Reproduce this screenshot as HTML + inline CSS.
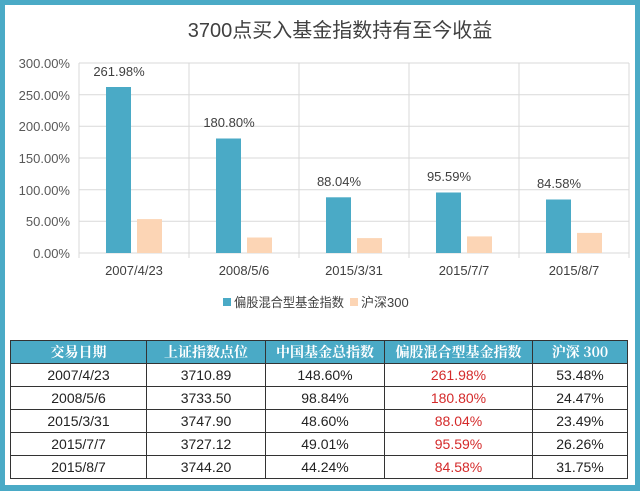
<!DOCTYPE html>
<html><head><meta charset="utf-8"><style>
body{margin:0;width:640px;height:491px;background:#4aaac6;overflow:hidden;font-family:"Liberation Sans","Noto Sans CJK SC",sans-serif}
#w{position:absolute;left:5px;top:5px;width:630px;height:480px;background:#fff}
table{position:absolute;left:10px;top:340px;border-collapse:collapse;font-size:14px;color:#222}
td,th{border:1px solid #333;text-align:center;height:22px;padding:0}
th{background:#4aaac6;color:#fff;font-weight:bold;font-family:"Noto Serif CJK SC",serif;font-size:14px;border-color:#333}
.r{color:#d42a2a}
</style></head><body>
<div id="w"></div>
<svg width="640" height="491" style="position:absolute;left:0;top:0" font-family="Liberation Sans,Noto Sans CJK SC,sans-serif">
<text x="340" y="37" font-size="20" fill="#404040" text-anchor="middle" font-weight="normal">3700点买入基金指数持有至今收益</text>
<g stroke="#d9d9d9" stroke-width="1">
<line x1="79" y1="63" x2="629" y2="63"/><line x1="79" y1="94.7" x2="629" y2="94.7"/><line x1="79" y1="126.3" x2="629" y2="126.3"/><line x1="79" y1="158" x2="629" y2="158"/><line x1="79" y1="189.7" x2="629" y2="189.7"/><line x1="79" y1="221.3" x2="629" y2="221.3"/><line x1="79" y1="253" x2="629" y2="253"/>
<line x1="79" y1="63" x2="79" y2="258"/><line x1="189" y1="63" x2="189" y2="258"/><line x1="299" y1="63" x2="299" y2="258"/><line x1="409" y1="63" x2="409" y2="258"/><line x1="519" y1="63" x2="519" y2="258"/><line x1="629" y1="63" x2="629" y2="258"/>
</g>
<g font-size="13" fill="#595959" text-anchor="end">
<text x="70" y="68">300.00%</text><text x="70" y="100">250.00%</text><text x="70" y="131">200.00%</text><text x="70" y="163">150.00%</text><text x="70" y="195">100.00%</text><text x="70" y="226">50.00%</text><text x="70" y="258">0.00%</text>
</g>
<g fill="#4aaac6">
<rect x="106" y="87" width="25" height="166"/><rect x="216" y="138.5" width="25" height="114.5"/><rect x="326" y="197.3" width="25" height="55.7"/><rect x="436" y="192.5" width="25" height="60.5"/><rect x="546" y="199.5" width="25" height="53.5"/>
</g>
<g fill="#fcd5b5">
<rect x="137" y="219.1" width="25" height="33.9"/><rect x="247" y="237.5" width="25" height="15.5"/><rect x="357" y="238.1" width="25" height="14.9"/><rect x="467" y="236.4" width="25" height="16.6"/><rect x="577" y="232.9" width="25" height="20.1"/>
</g>
<g font-size="13" fill="#404040" text-anchor="middle">
<text x="119" y="76">261.98%</text><text x="229" y="127">180.80%</text><text x="339" y="186">88.04%</text><text x="449" y="181">95.59%</text><text x="559" y="188">84.58%</text>
<text x="134" y="275">2007/4/23</text><text x="244" y="275">2008/5/6</text><text x="354" y="275">2015/3/31</text><text x="464" y="275">2015/7/7</text><text x="574" y="275">2015/8/7</text>
</g>
<rect x="223" y="298" width="8" height="8" fill="#4aaac6"/>
<text x="234" y="307" font-size="13" fill="#404040" textLength="110" lengthAdjust="spacingAndGlyphs">偏股混合型基金指数</text>
<rect x="350" y="298" width="8" height="8" fill="#fcd5b5"/>
<text x="361" y="307" font-size="13" fill="#404040">沪深300</text>
</svg>
<table>
<tr><th style="width:135px">交易日期</th><th style="width:118px">上证指数点位</th><th style="width:118px">中国基金总指数</th><th style="width:147px">偏股混合型基金指数</th><th style="width:94px">沪深 300</th></tr>
<tr><td>2007/4/23</td><td>3710.89</td><td>148.60%</td><td class="r">261.98%</td><td>53.48%</td></tr>
<tr><td>2008/5/6</td><td>3733.50</td><td>98.84%</td><td class="r">180.80%</td><td>24.47%</td></tr>
<tr><td>2015/3/31</td><td>3747.90</td><td>48.60%</td><td class="r">88.04%</td><td>23.49%</td></tr>
<tr><td>2015/7/7</td><td>3727.12</td><td>49.01%</td><td class="r">95.59%</td><td>26.26%</td></tr>
<tr><td>2015/8/7</td><td>3744.20</td><td>44.24%</td><td class="r">84.58%</td><td>31.75%</td></tr>
</table>
</body></html>
